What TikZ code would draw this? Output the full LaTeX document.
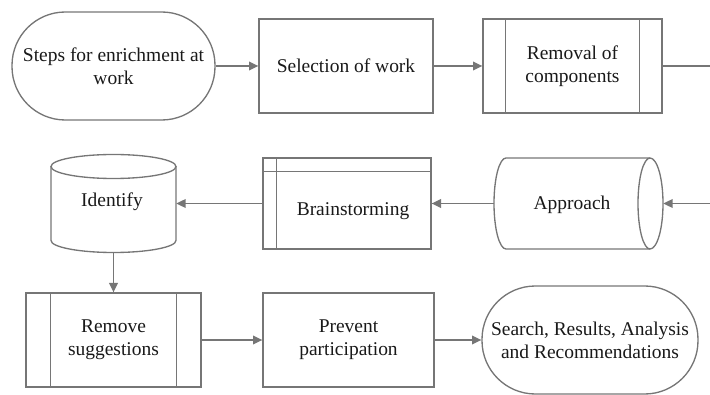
\documentclass[tikz,border=0pt]{standalone}
\usepackage{fontspec}
\setmainfont{Liberation Serif}
\newfontfamily\diagfont{Liberation Serif}
\usetikzlibrary{arrows.meta}
\definecolor{linegray}{RGB}{118,118,118}
\definecolor{textcol}{RGB}{25,25,25}
\begin{document}
\begin{tikzpicture}[x=0.75pt,y=-0.75pt,
  line/.style={draw=linegray, line width=1pt},
  arr/.style={line, -{Triangle[length=7pt,width=6.5pt]}},
  txt/.style={font=\diagfont\fontsize{14.6pt}{17.25pt}\selectfont, align=center, text=textcol},
  box/.style={txt, draw=linegray, line width=1pt, rectangle, inner sep=0pt},
  ghost/.style={rectangle, inner sep=0pt},
  stadium/.style={box, rounded corners=40pt, minimum width=#1, minimum height=81pt},
]
\useasboundingbox (0,0) rectangle (710,395);

% Row 1
\node[stadium=152.25pt] (n1) at (113.5,66) {Steps for enrichment at\\work};
\node[box, minimum width=130.5pt, minimum height=70.5pt] (n2) at (346,66) {Selection of work};
\node[box, minimum width=134.25pt, minimum height=70.5pt] (n3) at (572.5,66) {Removal of\\components};
\draw[line] ([xshift=17.25pt]n3.north west) -- ([xshift=17.25pt]n3.south west);
\draw[line] ([xshift=-17.25pt]n3.north east) -- ([xshift=-17.25pt]n3.south east);
\coordinate (c1) at (710,66);
\coordinate (c2) at (710,203.5);

% Row 2: Approach (horizontal cylinder)
\node[ghost, minimum width=126.75pt, minimum height=68.25pt] (n4) at (578.5,203.5) {};
\draw[line] (506,158) -- (650,158)
  arc[start angle=-90, end angle=90, x radius=13, y radius=45.5]
  -- (506,249)
  arc[start angle=90, end angle=270, x radius=12, y radius=45.5] -- cycle;
\draw[line] (650,158) arc[start angle=-90, end angle=-270, x radius=12, y radius=45.5];
\node[txt] (n4t) at (572,205) {Approach};

% Brainstorming (internal storage)
\node[box, minimum width=126pt, minimum height=68.25pt] (n5) at (347,203.5) {};
\draw[line] ([xshift=10.5pt]n5.north west) -- ([xshift=10.5pt]n5.south west);
\draw[line] ([yshift=-10.5pt]n5.north west) -- ([yshift=-10.5pt]n5.north east);
\node[txt] (n5t) at (353,211) {Brainstorming};

% Identify (vertical cylinder)
\node[ghost, minimum width=93.75pt, minimum height=73.5pt] (n6) at (113.5,203.5) {};
\draw[line] (113.5,166.5) ellipse[x radius=62.5, y radius=12];
\draw[line] (51,166.5) -- (51,240.5)
  arc[start angle=180, end angle=0, x radius=62.5, y radius=12]
  -- (176,166.5);
\node[txt] (n6t) at (112,202) {Identify};

% Row 3
\node[box, minimum width=131.25pt, minimum height=70.5pt] (n7) at (113.5,340) {Remove\\suggestions};
\draw[line] ([xshift=18.75pt]n7.north west) -- ([xshift=18.75pt]n7.south west);
\draw[line] ([xshift=-18.75pt]n7.north east) -- ([xshift=-18.75pt]n7.south east);
\node[box, minimum width=128.25pt, minimum height=70.5pt] (n8) at (348.5,340) {Prevent\\participation};
\node[stadium=162pt] (n9) at (590,340) {Search, Results, Analysis\\and Recommendations};

% Connectors
\draw[arr] (n1) -- (n2);
\draw[arr] (n2) -- (n3);
\draw[line] (n3) -- (c1);
\draw[arr] (c2) -- (n4);
\draw[arr] (n4) -- (n5);
\draw[arr] (n5) -- (n6);
\draw[arr] (n6) -- (n7);
\draw[arr] (n7) -- (n8);
\draw[arr] (n8) -- (n9);
\end{tikzpicture}
\end{document}
